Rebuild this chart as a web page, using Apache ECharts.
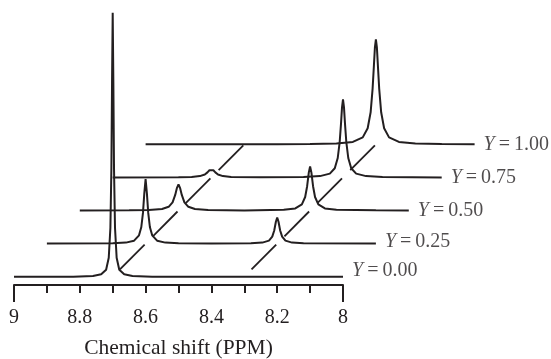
<!DOCTYPE html>
<html>
<head>
<meta charset="utf-8">
<script src="https://cdn.jsdelivr.net/npm/echarts@6/dist/echarts.min.js"></script>
<style>
  html, body {margin: 0; padding: 0; background: #fff;}
  #main {width: 551px; height: 359px;}
</style>
</head>
<body>
<div id="main"></div>
<script>
// Y values of the five stacked spectra (bottom to top)
const yLevels = ['0.00', '0.25', '0.50', '0.75', '1.00'];
// each spectrum is drawn 0.1 ppm to the right of the one below it
const ppmShift = 0.1;
// height of each baseline above the axis line
const baselines = [8.3, 41.4, 74.5, 107.6, 140.7];
// the two resonances (ppm in each spectrum's own frame)
const peakCenters = [8.7, 8.3];
const tickLabels = [9, 8.8, 8.6, 8.4, 8.2, 8];

// [ppm, intensity]
const traceY000 = [
  [9.0, 0], [8.82, 0], [8.76, 0.8], [8.735, 2.4], [8.72, 7], [8.712, 19], [8.707, 49],
  [8.704, 108], [8.702, 194], [8.70, 264], [8.698, 194], [8.696, 108], [8.693, 49],
  [8.688, 19], [8.68, 7], [8.665, 2.4], [8.64, 0.8], [8.58, 0], [8.0, 0]
];
const traceY025 = [
  [9.0, 0], [8.8, 0.4], [8.76, 1.0], [8.735, 2.9], [8.72, 8.3], [8.713, 16.6], [8.708, 30.7],
  [8.704, 50], [8.70, 64.5], [8.696, 50], [8.692, 30.7], [8.687, 16.6], [8.68, 8.3],
  [8.665, 2.9], [8.64, 1.0], [8.6, 0.4], [8.5, 0.1], [8.38, 0.3], [8.345, 1.0], [8.325, 3.0],
  [8.315, 7], [8.309, 13.1], [8.304, 21.8], [8.30, 26], [8.296, 21.8], [8.291, 13.1],
  [8.285, 7], [8.275, 3.0], [8.255, 1.0], [8.22, 0.3], [8.0, 0]
];
const traceY050 = [
  [9.0, 0], [8.85, 0.2], [8.79, 0.47], [8.75, 1.5], [8.73, 3.7], [8.718, 8.2], [8.71, 15.6],
  [8.705, 22.3], [8.70, 26], [8.695, 22.3], [8.69, 15.6], [8.682, 8.2], [8.67, 3.7],
  [8.65, 1.5], [8.61, 0.47], [8.5, 0.1], [8.38, 0.68], [8.345, 2.1], [8.325, 6.1],
  [8.315, 13.5], [8.309, 24.3], [8.304, 37.9], [8.30, 44], [8.296, 37.9], [8.291, 24.3],
  [8.285, 13.5], [8.275, 6.1], [8.255, 2.1], [8.22, 0.68], [8.1, 0.15], [8.0, 0]
];
const traceY075 = [
  [9.0, 0], [8.8, 0.15], [8.76, 0.5], [8.735, 1.3], [8.72, 2.9], [8.712, 5.0], [8.706, 7.1],
  [8.70, 8.2], [8.694, 7.1], [8.688, 5.0], [8.68, 2.9], [8.665, 1.3], [8.64, 0.5],
  [8.55, 0.15], [8.42, 0.45], [8.37, 1.3], [8.34, 3.8], [8.325, 9.1], [8.316, 19.4],
  [8.31, 35.6], [8.306, 54], [8.303, 70], [8.30, 78], [8.297, 70], [8.294, 54], [8.29, 35.6],
  [8.284, 19.4], [8.275, 9.1], [8.26, 3.8], [8.23, 1.3], [8.18, 0.45], [8.0, 0]
];
const traceY100 = [
  [9.0, 0], [8.6, 0.1], [8.5, 0.3], [8.42, 0.82], [8.37, 2.35], [8.34, 6.9], [8.325, 16.1],
  [8.316, 32], [8.31, 55.7], [8.306, 79], [8.303, 97], [8.30, 105], [8.297, 97], [8.294, 79],
  [8.29, 55.7], [8.284, 32], [8.275, 16.1], [8.26, 6.9], [8.23, 2.35], [8.18, 0.82],
  [8.1, 0.3], [8.0, 0]
];
const traces = [traceY000, traceY025, traceY050, traceY075, traceY100];

const ink = '#231f20';
const serif = '"Liberation Serif", "DejaVu Serif", serif';
const labelLift = [-6, -2, 0, 0, 0];

// drawing grid: same ppm scale as the visible axis (329 px per ppm), but wide
// enough to hold the shifted traces that run past 8 ppm
const pxPerPpm = 329;
const dataMin = 7.4;
const dataRight = 551 - 14 - (9 - dataMin) * pxPerPpm;

const chart = echarts.init(document.getElementById('main'));

const series = traces.map((trace, k) => ({
  type: 'line',
  xAxisIndex: 2,
  yAxisIndex: 2,
  symbol: 'none',
  silent: true,
  data: trace.map(([p, v]) => [p - k * ppmShift, baselines[k] + v]),
  lineStyle: {color: ink, width: 2}
}));

// "Y = ..." labels at the right end of every trace
series.push({
  type: 'scatter',
  xAxisIndex: 2,
  yAxisIndex: 2,
  symbolSize: 0,
  silent: true,
  data: traces.map((trace, k) => ({
    value: [trace[trace.length - 1][0] - k * ppmShift, baselines[k]],
    label: {offset: [0, labelLift[k]]}
  })),
  label: {
    show: true,
    position: 'right',
    distance: 9,
    formatter: p => '{i|Y}\u2009=\u2009' + yLevels[p.dataIndex],
    color: ink,
    fontFamily: serif,
    fontSize: 20,
    rich: {i: {fontStyle: 'italic', fontFamily: serif, fontSize: 20, color: ink}}
  }
});

// guide lines joining the same resonance in neighbouring spectra
const guides = [];
for (let k = 0; k < traces.length - 1; k++) {
  peakCenters.forEach(c => {
    const x0 = c - k * ppmShift, x1 = c - (k + 1) * ppmShift;
    const y0 = baselines[k], y1 = baselines[k + 1];
    const a = 0.22, b = 0.97;
    guides.push({coords: [
      [x0 + (x1 - x0) * a, y0 + (y1 - y0) * a],
      [x0 + (x1 - x0) * b, y0 + (y1 - y0) * b]
    ]});
  });
}
series.push({
  type: 'lines',
  coordinateSystem: 'cartesian2d',
  xAxisIndex: 2,
  yAxisIndex: 2,
  silent: true,
  data: guides,
  lineStyle: {color: ink, width: 1.8, opacity: 1}
});

const gridBox = {top: 0, bottom: 74, containLabel: false, outerBoundsMode: 'none'};

chart.setOption({
  animation: false,
  backgroundColor: '#fff',
  grid: [
    Object.assign({left: 14, right: 208}, gridBox),
    Object.assign({left: 14, right: 208}, gridBox),
    Object.assign({left: 14, right: dataRight}, gridBox)
  ],
  xAxis: [
    {
      type: 'value', gridIndex: 0, min: 8, max: 9, interval: 0.1, inverse: true,
      position: 'bottom',
      splitLine: {show: false},
      axisLine: {onZero: false, lineStyle: {color: ink, width: 2}},
      axisTick: {length: 8, lineStyle: {color: ink, width: 2}},
      axisLabel: {
        margin: 23, color: ink, fontFamily: serif, fontSize: 20,
        formatter: v => {
          const r = Math.round(v * 10) / 10;
          return tickLabels.some(t => Math.abs(t - r) < 1e-6) ? String(r) : '';
        }
      },
      name: 'Chemical shift (PPM)',
      nameLocation: 'middle',
      nameGap: 52,
      nameTextStyle: {color: ink, fontFamily: serif, fontSize: 21.5}
    },
    {
      type: 'value', gridIndex: 1, min: 8, max: 9, interval: 1, inverse: true,
      position: 'bottom',
      splitLine: {show: false},
      axisLine: {show: false, onZero: false},
      axisTick: {length: 17, lineStyle: {color: ink, width: 2}},
      axisLabel: {show: false}
    },
    {
      type: 'value', gridIndex: 2, min: dataMin, max: 9, inverse: true, show: false
    }
  ],
  yAxis: [
    {type: 'value', gridIndex: 0, min: 0, max: 285, show: false},
    {type: 'value', gridIndex: 1, min: 0, max: 285, show: false},
    {type: 'value', gridIndex: 2, min: 0, max: 285, show: false}
  ],
  series: series
});
</script>
</body>
</html>
